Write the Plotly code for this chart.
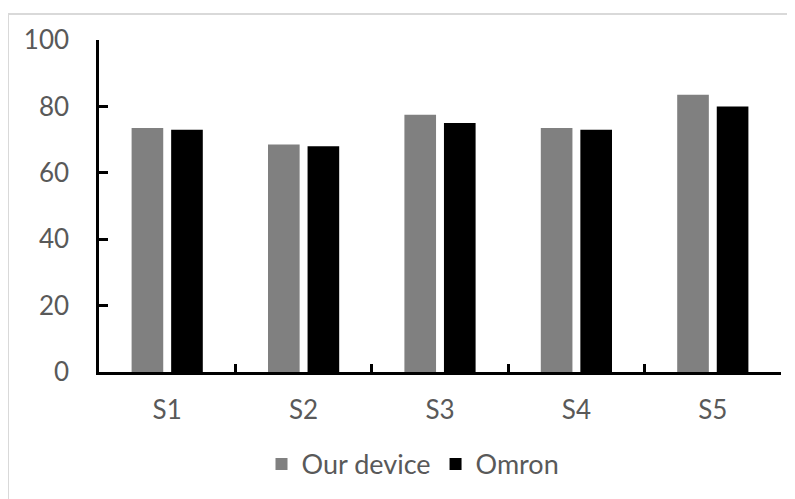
import plotly.graph_objects as go

categories = ["S1", "S2", "S3", "S4", "S5"]
our_device = [73.5, 68.5, 77.5, 73.5, 83.5]
omron = [73, 68, 75, 73, 80]
y_ticks = [0, 20, 40, 60, 80, 100]

# page body has an 8px margin; work in screen coords then subtract it
OFF = 8
W, H = 795 - OFF, 499 - OFF
L, T = 99 - OFF, 40 - OFF
pw, ph = 682, 332.5
R, B = W - L - pw, H - T - ph

font = "Lato"
txt_color = "#595959"


def py(screen_y):
    return (T + ph - (screen_y - OFF)) / ph


def px(screen_x):
    return (screen_x - OFF - L) / pw


fig = go.Figure()
fig.add_trace(go.Bar(x=categories, y=our_device, name="Our device",
                     marker=dict(color="#808080", line=dict(width=0))))
fig.add_trace(go.Bar(x=categories, y=omron, name="Omron",
                     marker=dict(color="#000000", line=dict(width=0))))

fig.update_layout(
    width=W, height=H,
    margin=dict(l=L, r=R, t=T, b=B, autoexpand=False),
    paper_bgcolor="white", plot_bgcolor="white",
    barmode="group", bargap=0.42, bargroupgap=0.2,
    font=dict(family=font, size=26, color=txt_color),
    showlegend=True,
    legend=dict(orientation="h", x=px(413), xanchor="center",
                y=py(465), yanchor="middle",
                font=dict(family=font, size=27, color=txt_color),
                itemwidth=30, bgcolor="rgba(0,0,0,0)"),
    xaxis=dict(showline=True, linecolor="black", linewidth=2.5,
               ticks="inside", tickson="boundaries", ticklen=8,
               tickwidth=2.5, tickcolor="black", showgrid=False,
               ticklabelstandoff=13,
               tickfont=dict(family=font, size=26, color=txt_color)),
    yaxis=dict(range=[0, 100], tickvals=y_ticks, showline=True,
               linecolor="black", linewidth=2.5, ticks="inside",
               ticklen=9, tickwidth=2.5, tickcolor="black",
               showgrid=False, zeroline=False, ticklabelstandoff=22,
               tickfont=dict(family=font, size=26, color=txt_color)),
    shapes=[dict(type="rect", xref="paper", yref="paper",
                 x0=px(8), x1=px(W + 40),
                 y0=py(H + 40), y1=py(14),
                 line=dict(color="#d9d9d9", width=2), layer="below")],
)

fig.write_html("out.html")
